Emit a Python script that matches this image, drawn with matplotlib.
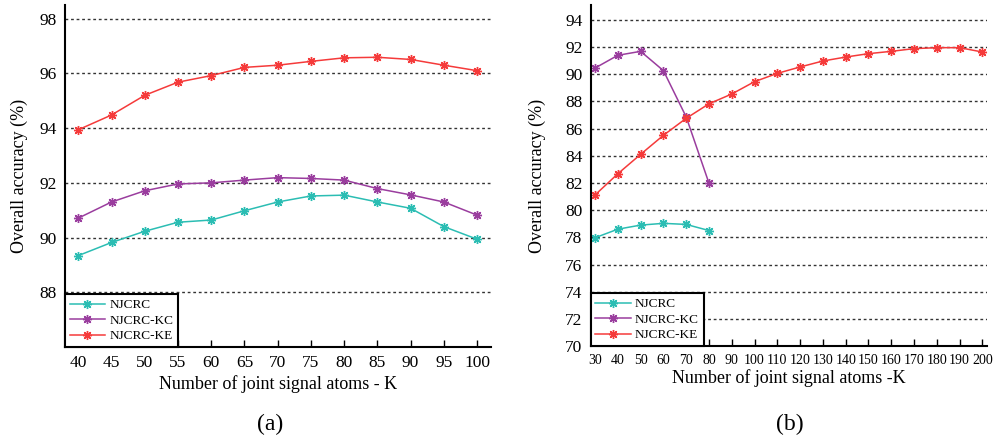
import matplotlib
matplotlib.use("Agg")
import matplotlib.pyplot as plt

plt.rcParams['font.family'] = ['Liberation Serif', 'DejaVu Serif']
plt.rcParams['mathtext.fontset'] = 'stix'

# Panel (a)
k_a = [40, 45, 50, 55, 60, 65, 70, 75, 80, 85, 90, 95, 100]
njcrc_a = [89.34, 89.82, 90.23, 90.56, 90.64, 90.98, 91.30, 91.52, 91.55, 91.30, 91.07, 90.40, 89.94]
njcrc_kc_a = [90.71, 91.30, 91.71, 91.96, 92.00, 92.10, 92.19, 92.16, 92.10, 91.79, 91.56, 91.30, 90.82]
njcrc_ke_a = [93.94, 94.48, 95.20, 95.68, 95.92, 96.22, 96.30, 96.44, 96.57, 96.59, 96.51, 96.30, 96.10]
yticks_a = [88, 90, 92, 94, 96, 98]

# Panel (b)
k_b_short = [30, 40, 50, 60, 70, 80]
njcrc_b = [77.97, 78.60, 78.90, 79.03, 78.95, 78.50]
njcrc_kc_b = [90.46, 91.40, 91.69, 90.27, 86.86, 81.98]
k_b = [30, 40, 50, 60, 70, 80, 90, 100, 110, 120, 130, 140, 150, 160, 170, 180, 190, 200]
njcrc_ke_b = [81.12, 82.68, 84.11, 85.51, 86.76, 87.83, 88.55, 89.46, 90.07, 90.54,
              90.98, 91.27, 91.52, 91.69, 91.89, 91.96, 91.96, 91.64]
yticks_b = [70, 72, 74, 76, 78, 80, 82, 84, 86, 88, 90, 92, 94]

labels = ['NJCRC', 'NJCRC-KC', 'NJCRC-KE']
colors = ['#2bbdb3', '#9a3d9e', '#f53a3a']
marker = (8, 2, 0)
ms = 6.5
mew = 1.0

fig = plt.figure(figsize=(9.94, 4.4), dpi=100)
ax_a = fig.add_axes([0.0654, 0.2114, 0.4286, 0.7772])
ax_b = fig.add_axes([0.5943, 0.2136, 0.3984, 0.7750])

def style(ax):
    for s in ['top', 'right']:
        ax.spines[s].set_visible(False)
    for s in ['left', 'bottom']:
        ax.spines[s].set_linewidth(1.5)
        ax.spines[s].set_color('black')
    ax.tick_params(axis='x', direction='in', length=5, width=1, pad=6)
    ax.tick_params(axis='y', length=0, pad=6)
    ax.grid(axis='y', linestyle=(0, (2, 2)), color='#333333', linewidth=1.0)
    ax.set_axisbelow(True)

def add_legend(ax):
    leg = ax.legend(loc='lower left', bbox_to_anchor=(0.0, 0.0), fontsize=9.5, frameon=True,
                    fancybox=False, edgecolor='black', framealpha=1, borderaxespad=0,
                    handlelength=2.7, handletextpad=0.3, labelspacing=0.25, borderpad=0.35)
    leg.get_frame().set_linewidth(1.5)

# (a)
for y, c, l in zip([njcrc_a, njcrc_kc_a, njcrc_ke_a], colors, labels):
    ax_a.plot(k_a, y, color=c, lw=1.1, marker=marker, ms=ms, mew=mew, label=l)
ax_a.set_xlim(38, 102.1)
ax_a.set_ylim(86, 98.5)
ax_a.set_xticks(k_a)
ax_a.set_yticks(yticks_a)
style(ax_a)
ax_a.tick_params(axis='both', labelsize=12.5)
ax_a.set_ylabel('Overall accuracy (%)', fontsize=13, labelpad=8)
ax_a.set_xlabel('Number of joint signal atoms - K', fontsize=13, labelpad=3)
add_legend(ax_a)

# (b)
ax_b.plot(k_b_short, njcrc_b, color=colors[0], lw=1.1, marker=marker, ms=ms, mew=mew, label=labels[0])
ax_b.plot(k_b_short, njcrc_kc_b, color=colors[1], lw=1.1, marker=marker, ms=ms, mew=mew, label=labels[1])
ax_b.plot(k_b, njcrc_ke_b, color=colors[2], lw=1.1, marker=marker, ms=ms, mew=mew, label=labels[2])
ax_b.set_xlim(28.1, 201.9)
ax_b.set_ylim(70, 95.1)
ax_b.set_xticks(k_b)
ax_b.set_yticks(yticks_b)
style(ax_b)
ax_b.tick_params(axis='y', labelsize=12.5)
ax_b.tick_params(axis='x', labelsize=10)
ax_b.set_ylabel('Overall accuracy (%)', fontsize=13, labelpad=14)
ax_b.set_xlabel('Number of joint signal atoms -K', fontsize=13, labelpad=1)
add_legend(ax_b)

fig.text(0.2716, 0.022, '(a)', fontsize=17, ha='center')
fig.text(0.795, 0.022, '(b)', fontsize=17, ha='center')

fig.savefig('out.png', dpi=100)
